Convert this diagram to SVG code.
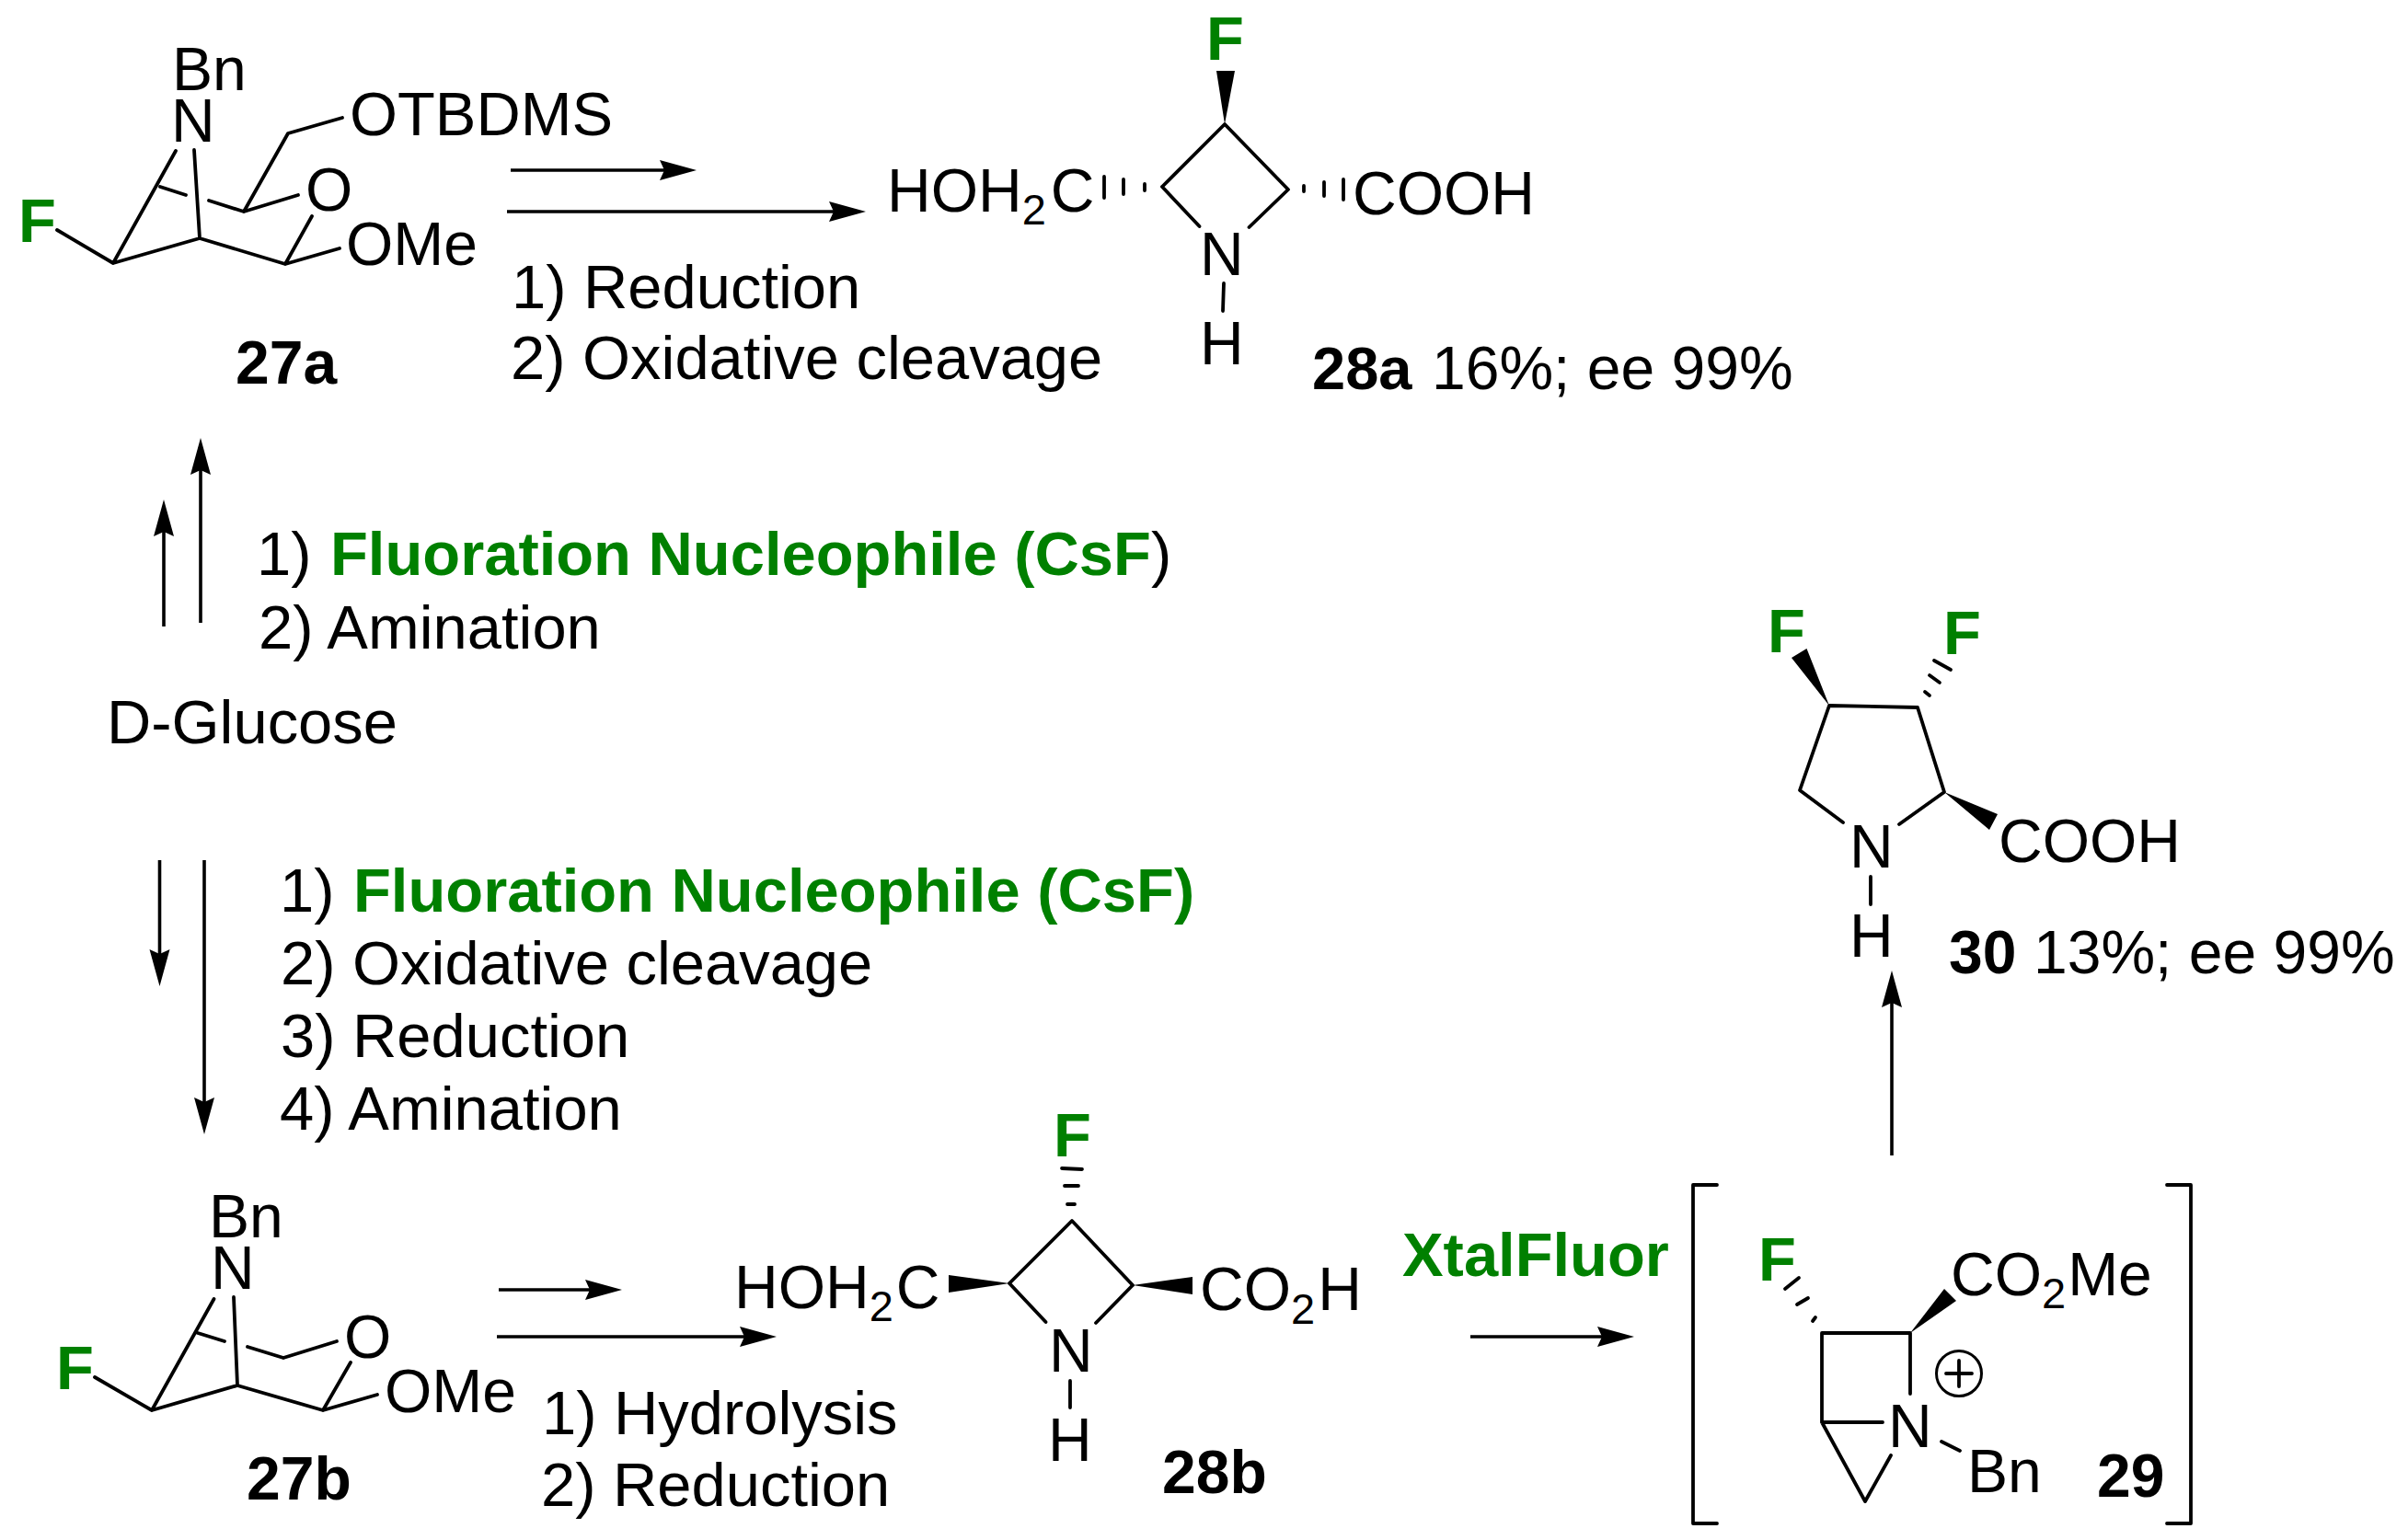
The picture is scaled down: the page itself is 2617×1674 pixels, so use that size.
<svg xmlns="http://www.w3.org/2000/svg" width="2617" height="1674" viewBox="0 0 2617 1674">
<style>
text{font-family:"Liberation Sans",Arial,sans-serif;font-size:66px;fill:#000}
.r{font-size:66.900px}
.g{fill:#008000;font-weight:bold;font-size:66.900px}
.l{font-weight:bold}
.s{font-size:47px}
.b{fill:none;stroke:#000;stroke-width:3.8;stroke-linecap:round;stroke-linejoin:round}
.w{fill:#000;stroke:none}
.a{fill:none;stroke:#000;stroke-width:3.6;marker-end:url(#head)}
</style>
<defs>
<marker id="head" markerUnits="userSpaceOnUse" markerWidth="44" markerHeight="26" viewBox="0 -13 44 26" refX="30" refY="0" orient="auto">
<path d="M0,-11 L40,0 L0,11 L5,0 Z" fill="#000"/>
</marker>
</defs>
<rect width="2617" height="1674" fill="#fff"/>

<g id="connectors">
<line class="a" x1="555" y1="185" x2="747" y2="185"/>
<line class="a" x1="551" y1="230" x2="931" y2="230"/>
<line class="a" x1="178" y1="681" x2="178" y2="553"/>
<line class="a" x1="218" y1="677" x2="218" y2="486"/>
<line class="a" x1="173.500" y1="935" x2="173.500" y2="1062"/>
<line class="a" x1="222" y1="935" x2="222" y2="1223"/>
<line class="a" x1="542" y1="1402" x2="666" y2="1402"/>
<line class="a" x1="540" y1="1453" x2="834" y2="1453"/>
<line class="a" x1="1598" y1="1453" x2="1766" y2="1453"/>
<line class="a" x1="2056" y1="1256" x2="2056" y2="1065"/>
</g>

<g id="node-27a">
<path class="b" d="M191,164L123,286L217,259L310,287L339,235M211,163L217,259M62,250L123,286M310,287L369,270M265,230L324,212M265,230L227,218M202,212L174,203M265,230L313,145L372,128"/>
<text x="187" y="98">Bn</text>
<text x="186" y="154">N</text>
<text x="332" y="229">O</text>
<text x="380" y="147" textLength="286" lengthAdjust="spacingAndGlyphs">OTBDMS</text>
<text x="376" y="288">OMe</text>
<text class="g" x="20" y="263">F</text>
<text class="l" x="256" y="417">27a</text>
</g>

<g id="node-28a">
<path class="w" d="M1331,135L1322,77L1342,77Z"/>
<path class="b" d="M1263,203L1331,135L1400,206M1263,203L1303.500,246M1400,206L1357.500,247M1330,308L1329,338"/>
<path class="b" d="M1244,200V207M1221,195V211M1200,192V215M1417,202V208M1439,198V213M1460,195V217"/>
<text class="g" x="1311" y="65">F</text>
<text x="1304" y="299">N</text>
<text x="1304" y="396">H</text>
<text x="964" y="230">HOH<tspan class="s" dy="14">2</tspan><tspan dy="-14" dx="5">C</tspan></text>
<text x="1470" y="233">COOH</text>
<text x="1426" y="423"><tspan class="l" font-size="65">28a</tspan><tspan x="1556">16%; ee 99%</tspan></text>
</g>

<g id="reagents-27a-to-28a">
<text class="r" x="556" y="335">1) Reduction</text>
<text class="r" x="555" y="412">2) Oxidative cleavage</text>
</g>

<g id="reagents-glucose-to-27a">
<text class="r" x="279" y="625">1) <tspan class="g" x="359">Fluoration Nucleophile (CsF</tspan>)</text>
<text class="r" x="281" y="705">2) Amination</text>
</g>

<g id="node-glucose">
<text class="r" x="116" y="808">D-Glucose</text>
</g>

<g id="reagents-glucose-to-27b">
<text class="r" x="304" y="991">1) <tspan class="g" x="384">Fluoration Nucleophile (CsF)</tspan></text>
<text class="r" x="305" y="1070">2) Oxidative cleavage</text>
<text class="r" x="305" y="1149">3) Reduction</text>
<text class="r" x="304" y="1228">4) Amination</text>
</g>

<g id="node-27b">
<path class="b" d="M232.500,1412L165,1533L258,1506L351,1533L381,1481M254,1410L258,1506M103,1497L165,1533M351,1533L410,1516M308,1476L366,1458M308,1476L269,1464M244,1458L215,1449"/>
<text x="227" y="1345">Bn</text>
<text x="229" y="1401">N</text>
<text x="374" y="1476">O</text>
<text x="418" y="1535">OMe</text>
<text class="g" x="61" y="1510">F</text>
<text class="l" x="268" y="1630">27b</text>
</g>

<g id="reagents-27b-to-28b">
<text class="r" x="589" y="1559">1) Hydrolysis</text>
<text class="r" x="588" y="1637">2) Reduction</text>
</g>

<g id="node-28b">
<path class="w" d="M1097,1395L1031,1386L1031,1405Z M1231,1397L1296,1388L1296,1407Z"/>
<path class="b" d="M1097,1395L1165,1327L1231,1397M1097,1395L1136.500,1437M1231,1397L1191,1438M1163,1501V1530"/>
<path class="b" d="M1154,1270L1176,1271M1157,1289H1172M1160,1309H1168"/>
<text class="g" x="1145" y="1257">F</text>
<text x="1140" y="1491">N</text>
<text x="1139" y="1588">H</text>
<text x="798" y="1422">HOH<tspan class="s" dy="14">2</tspan><tspan dy="-14" dx="3">C</tspan></text>
<text x="1304" y="1424">CO<tspan class="s" dy="15">2</tspan><tspan dy="-15" dx="3">H</tspan></text>
<text class="l" x="1263" y="1623">28b</text>
</g>

<g id="reagent-xtalfluor">
<text class="g" x="1524" y="1387">XtalFluor</text>
</g>

<g id="node-29">
<path class="b" d="M1866,1288H1840V1656H1866M2355,1288H2381V1656H2355"/>
<path class="w" d="M2076,1449L2113,1401L2126,1414Z"/>
<path class="b" d="M2076,1515V1449H1980V1546H2046M1980,1546L2027,1632L2055,1582M2110,1567L2130,1577"/>
<path class="b" d="M1955,1389L1940,1401M1965,1411L1953,1418M1973,1432L1970,1436"/>
<circle cx="2129" cy="1493" r="24.500" fill="none" stroke="#000" stroke-width="3"/>
<path class="b" d="M2115,1493H2143M2129,1479V1507"/>
<text class="g" x="1911" y="1392">F</text>
<text x="2052" y="1573">N</text>
<text x="2138" y="1622">Bn</text>
<text class="l" x="2279" y="1627">29</text>
<text x="2120" y="1408">CO<tspan class="s" dy="14">2</tspan><tspan dy="-14" dx="2">Me</tspan></text>
</g>

<g id="node-30">
<path class="w" d="M1988,767L1963.500,705L1947,715Z M2113,861L2171,885L2162,902Z"/>
<path class="b" d="M2003,894L1956,859L1988,767L2084,769L2113,861L2064,896M2033,953V983"/>
<path class="b" d="M2102,718L2120,728M2097,734L2108,742M2092,752L2097,756"/>
<text class="g" x="1921" y="709">F</text>
<text class="g" x="2112" y="711">F</text>
<text x="2010" y="943">N</text>
<text x="2010" y="1040">H</text>
<text x="2172" y="937">COOH</text>
<text x="2118" y="1058"><tspan class="l">30</tspan><tspan x="2210">13%; ee 99%</tspan></text>
</g>
</svg>
